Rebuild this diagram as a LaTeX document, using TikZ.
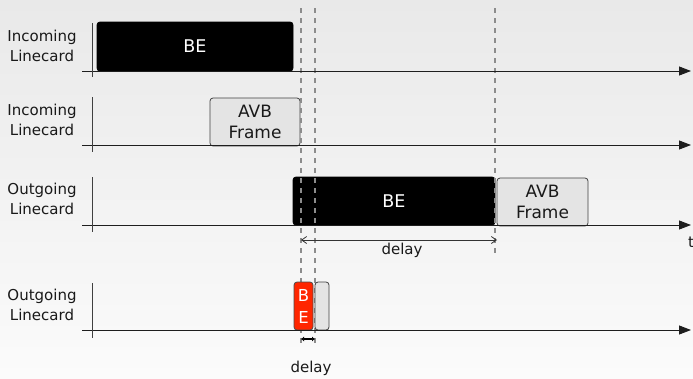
\documentclass[tikz,border=0pt]{standalone}
\usepackage{fontspec}
\setmainfont{DejaVu Sans}
\usetikzlibrary{arrows.meta}
\definecolor{bgtop}{RGB}{233,233,233}
\definecolor{bgbot}{RGB}{251,251,251}
\definecolor{avbfill}{RGB}{228,228,228}
\definecolor{bered}{RGB}{255,38,0}
\definecolor{axisc}{RGB}{30,30,30}
\definecolor{dashc}{RGB}{140,140,140}
\tikzset{
  lbl/.style={font=\fontsize{15}{20}\selectfont, align=center, text=black!90},
  box/.style={rounded corners=3pt, inner sep=0pt, outer sep=0pt, line width=0.8pt, draw=black!75},
  bebox/.style={box, fill=black, draw=black, text=white, font=\fontsize{17.5}{21}\selectfont},
  avbbox/.style={box, fill=avbfill, font=\fontsize{17}{21}\selectfont, align=center, text=black!90},
  redbox/.style={box, fill=bered, draw=black!70, text=white, font=\fontsize{16.5}{22}\selectfont, align=center},
  axisline/.style={line width=0.9pt, draw=axisc, -{Triangle[length=12pt,width=9pt]}},
  tickline/.style={line width=1pt, draw=black!75},
  guide/.style={line width=1.1pt, draw=dashc, dash pattern=on 5pt off 5pt},
  delayarrow/.style={line width=0.8pt, draw=black!80, {Straight Barb[length=5pt,width=7pt]}-{Straight Barb[length=5pt,width=7pt]}},
  smallarrow/.style={line width=1.6pt, draw=black, {Latex[length=3pt,width=5pt]}-{Latex[length=3pt,width=5pt]}},
}
\begin{document}
\begin{tikzpicture}[x=1pt,y=-1pt]
\shade[top color=bgtop, bottom color=bgbot] (0,0) rectangle (693,378);
\useasboundingbox (0,0) rectangle (693,378);

% guide lines
\coordinate (g1t) at (301,8); \coordinate (g1b) at (301,346);
\coordinate (g2t) at (315,8); \coordinate (g2b) at (315,346);
\coordinate (g3t) at (495,8); \coordinate (g3b) at (495,256);

% axes coordinates
\coordinate (a1s) at (82,71);  \coordinate (a1e) at (691,71);
\coordinate (a2s) at (82,145); \coordinate (a2e) at (691,145);
\coordinate (a3s) at (82,225); \coordinate (a3e) at (691,225);
\coordinate (a4s) at (82,330); \coordinate (a4e) at (691,330);
\coordinate (v1t) at (92,23);  \coordinate (v1b) at (92,77);
\coordinate (v2t) at (92,97);  \coordinate (v2b) at (92,152);
\coordinate (v3t) at (92,177); \coordinate (v3b) at (92,232);
\coordinate (v4t) at (92,283); \coordinate (v4b) at (92,338);

% boxes
\node[bebox, minimum width=196pt, minimum height=49pt] (be1) at (195,46.5) {BE};
\node[avbbox, minimum width=90pt, minimum height=48pt] (avb2) at (255,122) {AVB\\Frame};
\node[bebox, minimum width=202pt, minimum height=48pt] (be3) at (394,201) {BE};
\node[avbbox, minimum width=91pt, minimum height=48pt] (avb3) at (542.5,202) {AVB\\Frame};

\draw[guide] (g1t) -- (g1b);
\draw[guide] (g2t) -- (g2b);
\draw[guide] (g3t) -- (g3b);

\node[redbox, minimum width=19pt, minimum height=48pt] (be4) at (303.5,306) {B\\E};
\node[avbbox, minimum width=14pt, minimum height=48pt] (avb4) at (322,306) {};

\draw[axisline] (a1s) -- (a1e);
\draw[axisline] (a2s) -- (a2e);
\draw[axisline] (a3s) -- (a3e);
\draw[axisline] (a4s) -- (a4e);
\draw[tickline] (v1t) -- (v1b);
\draw[tickline] (v2t) -- (v2b);
\draw[tickline] (v3t) -- (v3b);
\draw[tickline] (v4t) -- (v4b);

% labels
\node[lbl] (l1) at (42,46) {Incoming\\Linecard};
\node[lbl] (l2) at (42,120) {Incoming\\Linecard};
\node[lbl] (l3) at (42,199) {Outgoing\\Linecard};
\node[lbl] (l4) at (42,305) {Outgoing\\Linecard};

% delays
\coordinate (d1s) at (301,240); \coordinate (d1e) at (497,240);
\draw[delayarrow] (d1s) -- (d1e);
\node[lbl] (dl1) at (402,250) {delay};
\coordinate (d2s) at (301,339); \coordinate (d2e) at (315,339);
\draw[smallarrow] (d2s) -- (d2e);
\node[lbl] (dl2) at (311,368) {delay};

\node[lbl, anchor=west, inner sep=0pt] (t) at (688,242) {t};
\end{tikzpicture}
\end{document}
